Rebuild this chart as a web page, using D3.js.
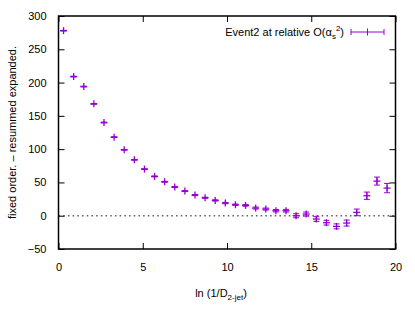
<!DOCTYPE html>
<html>
<head>
<meta charset="utf-8">
<script src="https://cdn.jsdelivr.net/npm/d3@7"></script>
<style>
  body { margin: 0; background: #fff; }
  svg { font-family: "Liberation Sans", Arial, sans-serif; }
</style>
</head>
<body>
<div id="chart"></div>
<script>
// data: bin centres, values and errors
var xs = [0.3, 0.9, 1.5, 2.1, 2.7, 3.3, 3.9, 4.5, 5.1, 5.7, 6.3, 6.9, 7.5, 8.1, 8.7, 9.3,
          9.9, 10.5, 11.1, 11.7, 12.3, 12.9, 13.5, 14.1, 14.7, 15.3, 15.9, 16.5, 17.1,
          17.7, 18.3, 18.9, 19.5];
var ys = [278, 209, 194, 168, 140, 118, 99, 84, 70, 59, 51, 43, 37, 31, 27, 23,
          19, 16.5, 15.5, 11.5, 10, 7.5, 7.5, 0, 2.5, -5, -10.5, -16, -11,
          5, 30, 52, 41.5];
var errs = [0.5, 0.5, 0.5, 0.5, 0.5, 0.5, 0.5, 0.5, 0.5, 0.6, 0.6, 0.7, 0.7, 0.8, 0.8, 0.9,
            1, 1, 1.2, 1.5, 1.5, 1.8, 2, 3, 3, 3.5, 3.5, 3.7, 4.5,
            5, 5.5, 6, 7];
var xTicks = [0, 5, 10, 15, 20];
var yTicks = [-50, 0, 50, 100, 150, 200, 250, 300];

var W = 415, H = 318;
var margin = {top: 16, right: 19.5, bottom: 69, left: 58.5};
var width = W - margin.left - margin.right,
    height = H - margin.top - margin.bottom;
var col = "#9400d3";

var svg = d3.select("#chart").append("svg")
    .attr("width", W)
    .attr("height", H);

var g = svg.append("g")
    .attr("transform", "translate(" + margin.left + "," + margin.top + ")");

var x = d3.scaleLinear().domain([0, 20]).range([0, width]);
var y = d3.scaleLinear().domain([-50, 300]).range([height, 0]);

// zero line
g.append("line")
    .attr("x1", 0).attr("x2", width)
    .attr("y1", y(0)).attr("y2", y(0))
    .attr("stroke", "#666")
    .attr("stroke-width", 1.5)
    .attr("stroke-dasharray", "1.6,3.1");

// axes, ticks pointing inward
function styleAxis(sel) {
  sel.select(".domain").remove();
  sel.selectAll(".tick line").attr("stroke", "#000").attr("stroke-width", 1);
  sel.selectAll("text").attr("fill", "#000").style("font-size", "11px")
     .style("font-family", "'Liberation Sans', Arial, sans-serif");
}

g.append("g")
    .attr("transform", "translate(0," + height + ")")
    .call(d3.axisBottom(x).tickValues(xTicks).tickSize(-6).tickPadding(14))
    .call(styleAxis);
g.append("g")
    .call(d3.axisTop(x).tickValues(xTicks).tickSize(-6).tickFormat(""))
    .call(styleAxis);
g.append("g")
    .call(d3.axisLeft(y).tickValues(yTicks).tickSize(-6).tickPadding(12))
    .call(styleAxis);
g.append("g")
    .attr("transform", "translate(" + width + ",0)")
    .call(d3.axisRight(y).tickValues(yTicks).tickSize(-6).tickFormat(""))
    .call(styleAxis);

// frame
g.append("rect")
    .attr("width", width).attr("height", height)
    .attr("fill", "none").attr("stroke", "#000").attr("stroke-width", 1.5);

// error bars + points
var data = xs.map(function(d, i) { return {x: d, y: ys[i], e: errs[i]}; });
var pts = g.selectAll(".pt").data(data).enter().append("g")
    .attr("class", "pt")
    .attr("stroke", col)
    .attr("stroke-width", 1);

pts.append("line")
    .attr("x1", function(d) { return x(d.x); })
    .attr("x2", function(d) { return x(d.x); })
    .attr("y1", function(d) { return y(d.y - d.e); })
    .attr("y2", function(d) { return y(d.y + d.e); });
pts.append("line")
    .attr("x1", function(d) { return x(d.x) - 3; })
    .attr("x2", function(d) { return x(d.x) + 3; })
    .attr("y1", function(d) { return y(d.y - d.e); })
    .attr("y2", function(d) { return y(d.y - d.e); });
pts.append("line")
    .attr("x1", function(d) { return x(d.x) - 3; })
    .attr("x2", function(d) { return x(d.x) + 3; })
    .attr("y1", function(d) { return y(d.y + d.e); })
    .attr("y2", function(d) { return y(d.y + d.e); });
// + marker
pts.append("line")
    .attr("x1", function(d) { return x(d.x) - 3.5; })
    .attr("x2", function(d) { return x(d.x) + 3.5; })
    .attr("y1", function(d) { return y(d.y); })
    .attr("y2", function(d) { return y(d.y); })
    .attr("stroke-width", 1.3);
pts.append("line")
    .attr("x1", function(d) { return x(d.x); })
    .attr("x2", function(d) { return x(d.x); })
    .attr("y1", function(d) { return y(d.y) - 3.5; })
    .attr("y2", function(d) { return y(d.y) + 3.5; })
    .attr("stroke-width", 1.3);

// legend
var leg = svg.append("text")
    .attr("x", 344).attr("y", 36)
    .attr("text-anchor", "end")
    .style("font-size", "11px");
leg.append("tspan").text("Event2 at relative O(α");
leg.append("tspan").attr("dy", 3).style("font-size", "8px").text("s");
leg.append("tspan").attr("dy", -8).style("font-size", "8px").text("2");
leg.append("tspan").attr("dy", 5).text(")");

var lg = svg.append("g").attr("stroke", col).attr("stroke-width", 1);
lg.append("line").attr("x1", 351).attr("x2", 384).attr("y1", 32).attr("y2", 32);
lg.append("line").attr("x1", 351).attr("x2", 351).attr("y1", 29).attr("y2", 35);
lg.append("line").attr("x1", 384).attr("x2", 384).attr("y1", 29).attr("y2", 35);
lg.append("line").attr("x1", 367.5).attr("x2", 367.5).attr("y1", 28.5).attr("y2", 35.5);

// axis titles
var xl = svg.append("text")
    .attr("x", 221).attr("y", 297)
    .attr("text-anchor", "middle")
    .style("font-size", "11px");
xl.append("tspan").text("ln (1/D");
xl.append("tspan").attr("dy", 3).style("font-size", "8px").text("2-jet");
xl.append("tspan").attr("dy", -3).text(")");

svg.append("text")
    .attr("transform", "translate(16," + (margin.top + height / 2) + ") rotate(-90)")
    .attr("text-anchor", "middle")
    .style("font-size", "11px")
    .text("fixed order. – resummed expanded.");
</script>
</body>
</html>
